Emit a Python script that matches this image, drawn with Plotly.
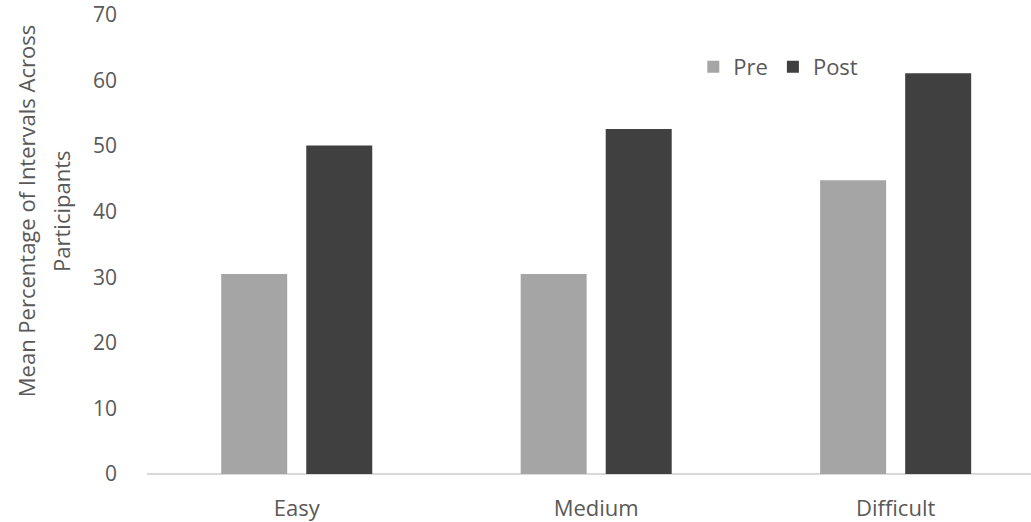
import plotly.graph_objects as go

categories = ["Easy", "Medium", "Difficult"]
pre_values = [30.5, 30.5, 44.8]
post_values = [50.1, 52.6, 61.1]
y_ticks = [0, 10, 20, 30, 40, 50, 60, 70]
title_lines = ["Mean Percentage of Intervals Across", "Participants"]

FONT = "Open Sans"
TEXT_COLOR = "#595959"

fig = go.Figure()
fig.add_trace(go.Bar(name="Pre", x=categories, y=pre_values,
                     marker=dict(color="#a5a5a5", line=dict(width=0))))
fig.add_trace(go.Bar(name="Post", x=categories, y=post_values,
                     marker=dict(color="#404040", line=dict(width=0))))

# two-line rotated y-axis title, one annotation per line
title_annotations = [
    dict(text=line, xref="paper", yref="paper", x=xp, y=0.572,
         xanchor="center", yanchor="middle", textangle=-90, showarrow=False,
         font=dict(family=FONT, size=22, color=TEXT_COLOR))
    for line, xp in zip(title_lines, [-0.136, -0.0967])
]

fig.update_layout(
    width=1031, height=522,
    margin=dict(l=147, r=0, t=15, b=46),
    paper_bgcolor="white", plot_bgcolor="white",
    barmode="group", bargap=0.432, bargroupgap=0.224,
    font=dict(family=FONT, size=22, color=TEXT_COLOR),
    showlegend=True,
    legend=dict(orientation="h", x=0.618, xanchor="left", y=0.887, yanchor="middle",
                font=dict(family=FONT, size=22, color=TEXT_COLOR),
                itemwidth=30, bgcolor="rgba(0,0,0,0)", traceorder="normal"),
    xaxis=dict(range=[-0.5, 2.452], showgrid=False, zeroline=False,
               showline=False, ticks="", ticklabelstandoff=19,
               tickfont=dict(family=FONT, size=22, color=TEXT_COLOR)),
    yaxis=dict(range=[0, 70], tickvals=y_ticks, showgrid=False,
               zeroline=True, zerolinecolor="#d9d9d9", zerolinewidth=1.5,
               showline=False, ticks="", ticklabelstandoff=29,
               tickfont=dict(family=FONT, size=21, color=TEXT_COLOR)),
    annotations=title_annotations,
)

fig.write_html("out.html")
